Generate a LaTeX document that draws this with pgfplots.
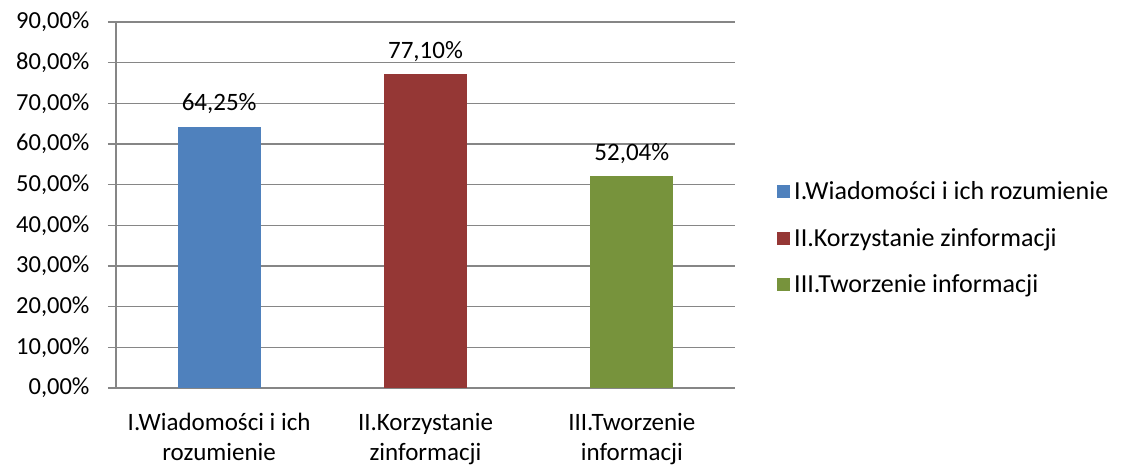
\documentclass[border=0pt]{standalone}
\usepackage{pgfplots}
\pgfplotsset{compat=1.18}
\usepackage{fontspec}
\setmainfont{Carlito}
\definecolor{cblue}{HTML}{4F81BD}
\definecolor{cred}{HTML}{953735}
\definecolor{cgreen}{HTML}{77933C}
\definecolor{cgrid}{HTML}{868686}
\begin{document}
\begin{tikzpicture}
\useasboundingbox (0,0) rectangle (1129pt,469pt);
\begin{axis}[
  at={(116pt,81pt)}, anchor=south west,
  scale only axis, width=619pt, height=366pt,
  xmin=-0.5, xmax=2.5, ymin=0, ymax=90,
  ybar, bar width=83pt,
  axis x line*=bottom, axis y line*=left,
  axis line style={cgrid, line width=1.2pt},
  ytick={0,10,...,90},
  ymajorgrids, grid style={cgrid, line width=1.2pt},
  tick align=outside,
  major tick length=8pt,
  tick style={cgrid, line width=1.2pt},
  yticklabel={\pgfmathprintnumber[fixed,fixed zerofill,precision=2,use comma]{\tick}\%},
  /pgf/number format/assume math mode=true,
  yticklabel style={font=\fontsize{24.5}{28}\selectfont, xshift=-15pt},
  xtick={0,1,2},
  xticklabels={{I.Wiadomości i ich\\rozumienie},{II.Korzystanie\\zinformacji},{III.Tworzenie\\informacji}},
  x tick style={draw=none},
  xticklabel style={font=\fontsize{25}{30}\selectfont, align=center, yshift=-14pt},
  extra x ticks={-0.5,0.5,1.5,2.5},
  extra x tick labels={},
  extra x tick style={tick style={draw=cgrid, line width=1.2pt}, major tick length=6pt, grid=none},
  nodes near coords={\pgfmathprintnumber[fixed,fixed zerofill,precision=2,use comma]{\pgfplotspointmeta}\%},
  nodes near coords style={font=\fontsize{25}{28}\selectfont, black, yshift=9pt},
  legend style={at={(1.063,0.41)}, anchor=west, draw=none, fill=none,
    font=\fontsize{26}{29}\selectfont, row sep=23pt,
    /tikz/every odd column/.append style={column sep=2pt}},
  legend cell align=left,
  legend image code/.code={\fill[#1] (0pt,-6.5pt) rectangle (13pt,6.5pt);},
]
\addplot[fill=cblue, draw=none, bar shift=0pt] coordinates {(0,64.25)};
\addplot[fill=cred, draw=none, bar shift=0pt] coordinates {(1,77.10)};
\addplot[fill=cgreen, draw=none, bar shift=0pt] coordinates {(2,52.04)};
\legend{I.Wiadomości i ich rozumienie, II.Korzystanie zinformacji, III.Tworzenie informacji}
\end{axis}
\end{tikzpicture}
\end{document}
